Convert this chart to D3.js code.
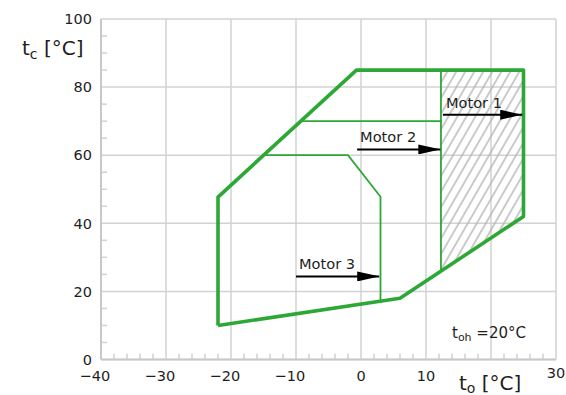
<!DOCTYPE html>
<html><head><meta charset="utf-8">
<script src="https://cdn.jsdelivr.net/npm/d3@7"></script>
<style>
body{margin:0;background:#fff;}
svg{display:block;font-family:"DejaVu Sans",sans-serif;}
</style></head>
<body><svg id="c" width="566" height="395"></svg>
<script>
// ---- data ----
const xTicks = [-40,-30,-20,-10,0,10,20,30];
const xTickLabels = [-40,-30,-20,-10,0,10,30];   // "20" is hidden by the axis title
const yTicks = [0,20,40,60,80,100];
// outer envelope (Motor 1), thick line: [t_o, t_c]
const envelopeX = [-22, -22, -0.7, 25, 25, 6, -22];
const envelopeY = [10, 47.7, 85, 85, 42, 18, 10];
// Motor 2 boundary (thin)
const motor2X = [-9.4, 12.3, 12.3];
const motor2Y = [70, 70, 26];
const motor2TopX = [12.3, 12.3];
const motor2TopY = [85, 70];
// Motor 3 boundary (thin)
const motor3X = [-14.8, -2.0, 3.0, 3.0];
const motor3Y = [60, 60, 47.8, 17.2];
// hatched region (only Motor 1)
const hatchX = [12.3, 25, 25, 12.3];
const hatchY = [85, 85, 42, 26];
// arrows
const arrowLabels = ["Motor 1", "Motor 2", "Motor 3"];
const arrowX1 = [12.6, -0.6, -10.0];
const arrowX2 = [24.8, 12.2, 2.8];
const arrowY = [71.9, 61.7, 24.4];

const svg = d3.select("#c");
const x = d3.scaleLinear().domain([-40,30]).range([101,556]);
const y = d3.scaleLinear().domain([0,100]).range([359.5,19]);
const green = "#2da836";
const gridCol = "#d2d2d2";
const txt = "#1e1e1e";

// grid
const g = svg.append("g");
g.selectAll(".gx").data(xTicks).join("line")
  .attr("x1",d=>x(d)).attr("x2",d=>x(d)).attr("y1",y(0)).attr("y2",y(100))
  .attr("stroke",gridCol).attr("stroke-width",1.5);
g.selectAll(".gy").data(yTicks).join("line")
  .attr("x1",x(-40)).attr("x2",x(30)).attr("y1",d=>y(d)).attr("y2",d=>y(d))
  .attr("stroke",gridCol).attr("stroke-width",1.5);

// minor ticks
const xMinor = d3.range(-40,31,2).filter(d=>d%10!==0);
const yMinor = d3.range(0,101,5).filter(d=>d%20!==0);
g.selectAll(".mx").data(xMinor).join("line")
  .attr("x1",d=>x(d)).attr("x2",d=>x(d)).attr("y1",y(0)).attr("y2",y(0)-6)
  .attr("stroke",gridCol).attr("stroke-width",1.5);
g.selectAll(".my").data(yMinor).join("line")
  .attr("x1",x(-40)).attr("x2",x(-40)+6).attr("y1",d=>y(d)).attr("y2",d=>y(d))
  .attr("stroke",gridCol).attr("stroke-width",1.5);
// axis lines
g.append("line").attr("x1",x(-40)).attr("x2",x(30)).attr("y1",y(0)).attr("y2",y(0))
  .attr("stroke","#c8c8c8").attr("stroke-width",2);
g.append("line").attr("x1",x(-40)).attr("x2",x(-40)).attr("y1",y(0)).attr("y2",y(100))
  .attr("stroke","#c8c8c8").attr("stroke-width",2);

// hatch pattern
const defs = svg.append("defs");
const pat = defs.append("pattern").attr("id","hatch").attr("patternUnits","userSpaceOnUse")
  .attr("width",7.8).attr("height",20).attr("patternTransform","rotate(30)");
pat.append("line").attr("x1",2).attr("x2",2).attr("y1",0).attr("y2",20)
  .attr("stroke","#b4b4b4").attr("stroke-width",1.4);

const line = d3.line().x(d=>x(d[0])).y(d=>y(d[1]));
const zip = (a,b)=>a.map((v,i)=>[v,b[i]]);

svg.append("path").attr("d", line(zip(hatchX,hatchY))+"Z").attr("fill","url(#hatch)");

// thin lines
[[motor2X,motor2Y],[motor2TopX,motor2TopY],[motor3X,motor3Y]].forEach(([a,b])=>{
  svg.append("path").attr("d",line(zip(a,b))).attr("fill","none")
    .attr("stroke",green).attr("stroke-width",1.8);
});
// thick envelope
svg.append("path").attr("d",line(zip(envelopeX,envelopeY))).attr("fill","none")
  .attr("stroke",green).attr("stroke-width",3.6).attr("stroke-linejoin","round");

// arrows
defs.append("marker").attr("id","arr").attr("viewBox","0 0 22 10").attr("refX",22).attr("refY",5)
  .attr("markerWidth",22).attr("markerHeight",10).attr("markerUnits","userSpaceOnUse")
  .attr("orient","auto")
  .append("path").attr("d","M0,0 L22,5 L0,10 Z").attr("fill","#000");
arrowLabels.forEach((lab,i)=>{
  svg.append("line").attr("x1",x(arrowX1[i])).attr("x2",x(arrowX2[i]))
    .attr("y1",y(arrowY[i])).attr("y2",y(arrowY[i]))
    .attr("stroke","#000").attr("stroke-width",2).attr("marker-end","url(#arr)");
  svg.append("text").attr("x",x(arrowX1[i])+3).attr("y",y(arrowY[i])-7)
    .attr("font-size",14.6).attr("fill",txt).text(lab);
});

// tick labels
svg.selectAll(".yl").data(yTicks).join("text")
  .attr("x",92).attr("y",d=>y(d)).attr("dy","0.36em").attr("text-anchor","end")
  .attr("font-size",14.5).attr("fill",txt).text(d=>d);
const xl = svg.selectAll(".xl").data(xTickLabels).join("text")
  .attr("x",d=>x(d)).attr("y",d=>d===30?378:381).attr("text-anchor","middle")
  .attr("font-size",14.5).attr("fill",txt).text(d=>d<0?"\u2212"+Math.abs(d):d);
// shift negative labels so digits centre on tick
const tmp = svg.append("text").attr("font-size",14.5).text("\u2212");
const mw = tmp.node().getComputedTextLength(); tmp.remove();
xl.attr("dx",d=>d<0?-mw/2:0);

// axis titles
const tc = svg.append("text").attr("x",22).attr("y",55).attr("font-size",20).attr("fill",txt);
tc.append("tspan").text("t");
tc.append("tspan").attr("font-size",14).attr("dy",4).text("c");
tc.append("tspan").attr("dy",-4).text(" [°C]");
const to = svg.append("text").attr("x",459).attr("y",390).attr("font-size",20).attr("fill",txt);
to.append("tspan").text("t");
to.append("tspan").attr("font-size",14).attr("dy",3).text("o");
to.append("tspan").attr("dy",-3).text(" [°C]");
const toh = svg.append("text").attr("x",452).attr("y",338).attr("font-size",15).attr("fill",txt);
toh.append("tspan").text("t");
toh.append("tspan").attr("font-size",11).attr("dy",3).text("oh");
toh.append("tspan").attr("dy",-3).text(" =20°C");
</script></body></html>
